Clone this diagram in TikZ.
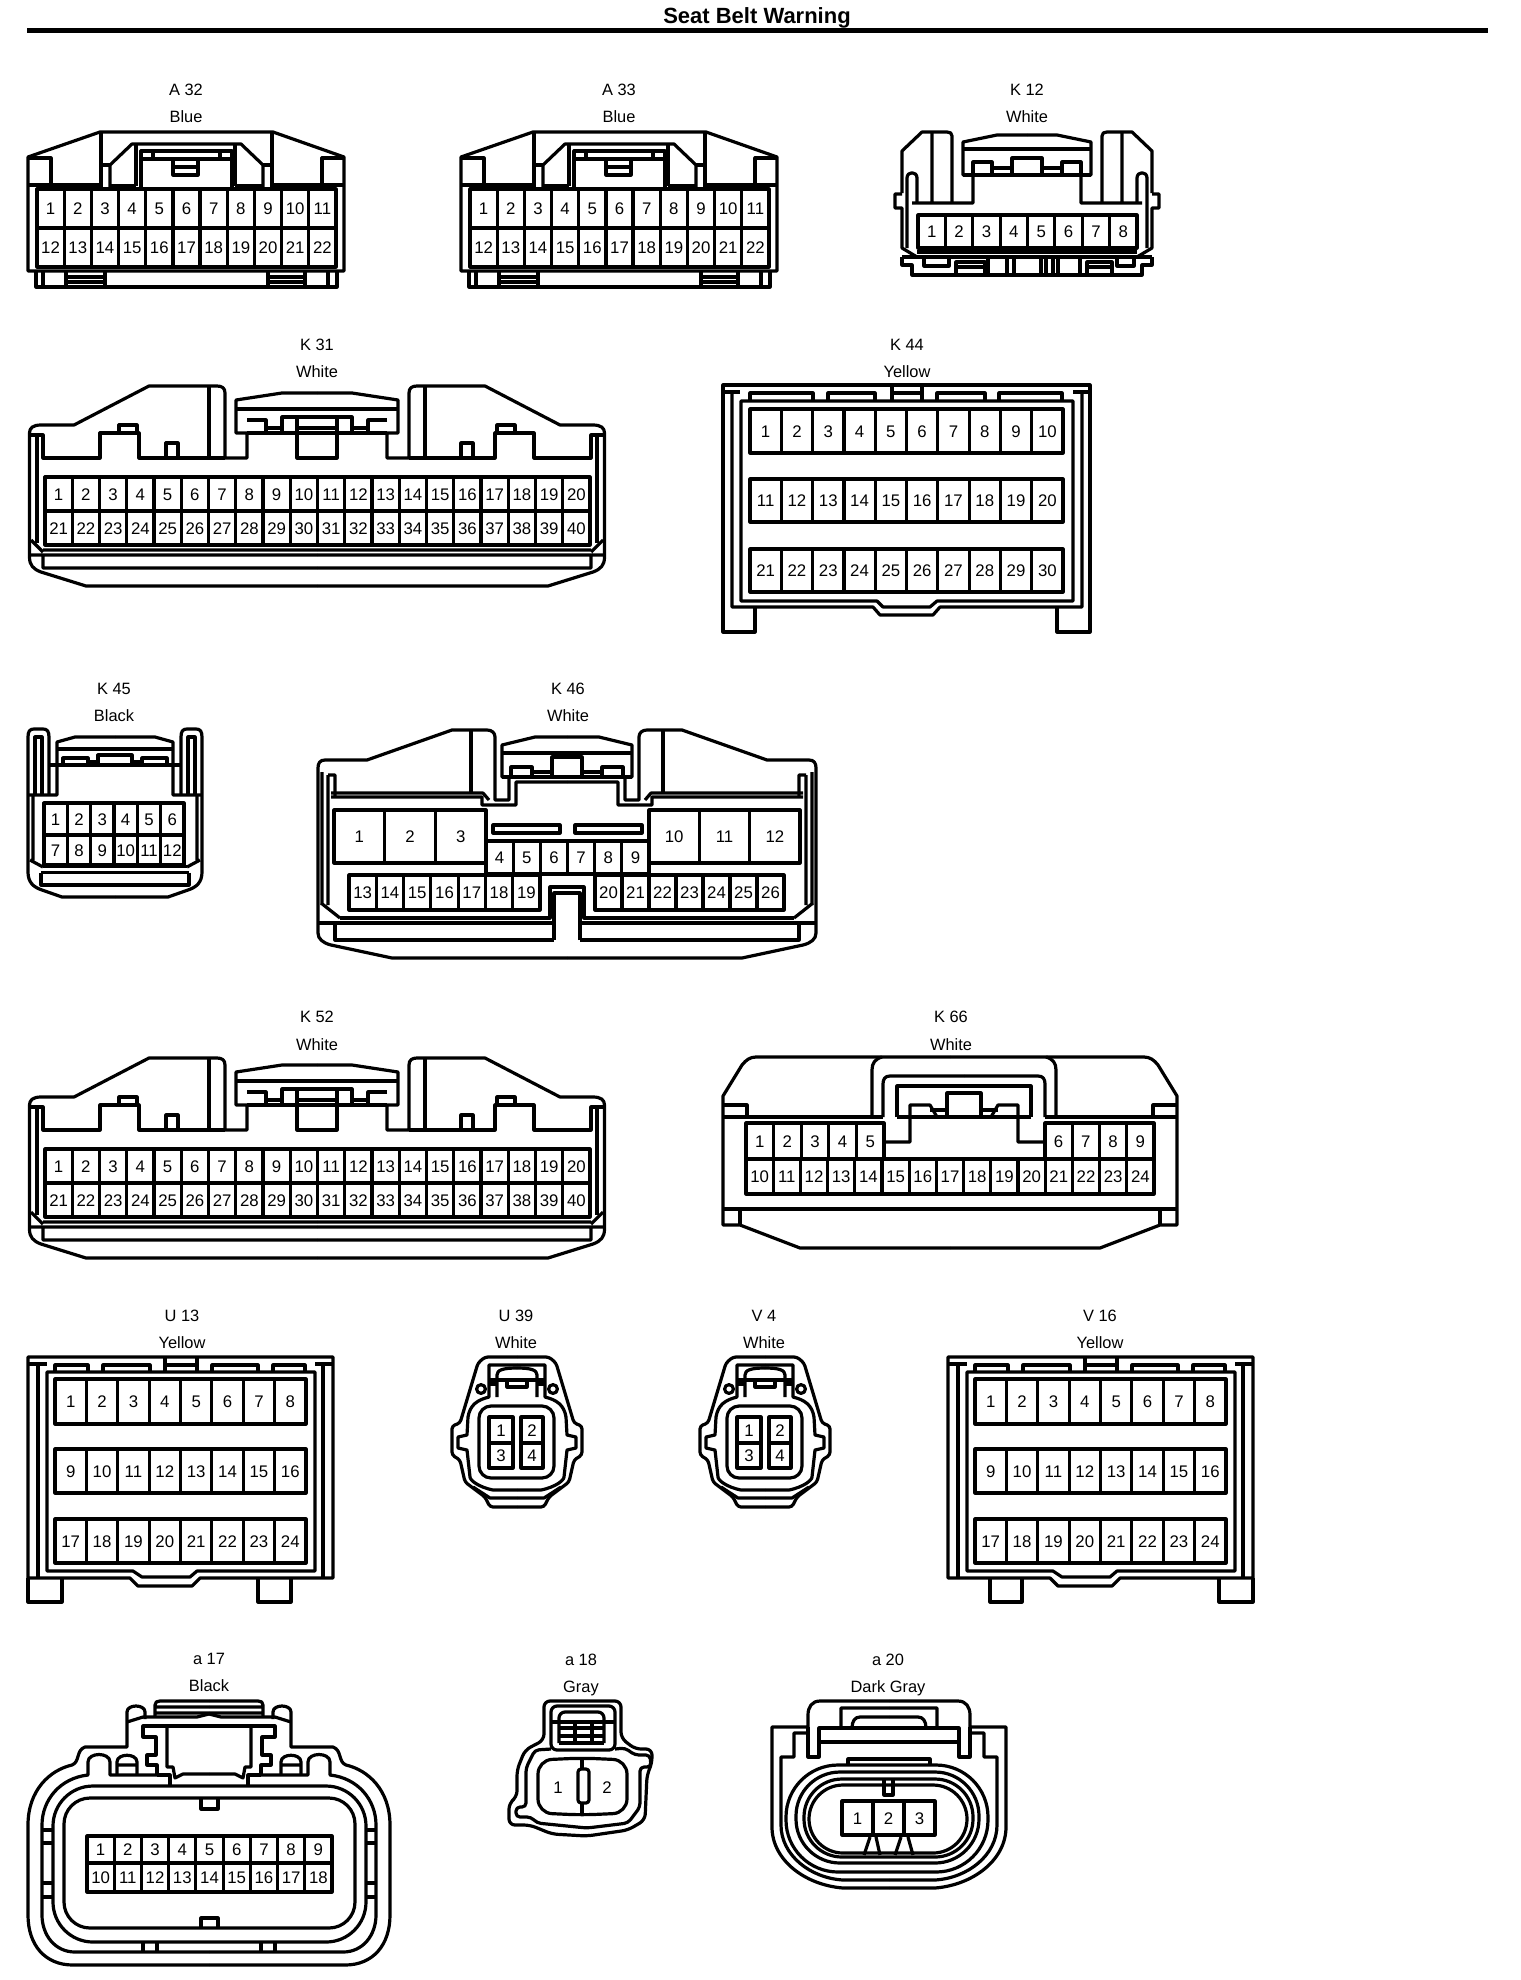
\documentclass[tikz,border=0pt]{standalone}
\usepackage{fontspec}
\setmainfont{Liberation Sans}
\tikzset{
  pin/.style={anchor=base,inner sep=0pt,font=\fontsize{8.4}{10}\selectfont},
  caption/.style={anchor=base,inner sep=0pt,font=\fontsize{8.2}{10}\selectfont}
}
\newcommand\mirrored[2]{#2\begin{scope}[shift={({2*#1},0)},xscale=-1]#2\end{scope}}
% name, x0, x1, y0, y1, n, first number
\newcommand\pins[7]{%
  \draw (#2,#4) rectangle (#3,#5);
  \foreach \i [evaluate=\i as \cx using {#2+(\i-0.5)*(#3-#2)/#6},
               evaluate=\i as \lx using {#2+\i*(#3-#2)/#6},
               evaluate=\i as \num using {int(#7+\i-1)}] in {1,...,#6}{
    \ifnum\i<#6\relax \draw (\lx,#4)--(\lx,#5);\fi
    \node[pin] (#1-\num) at (\cx,{(#4+#5)/2+6}) {\num};
  }%
}
\newcommand\capt[6]{\node[caption] (#1-id) at (#2,#3+6) {#4}; \node[caption] (#1-col) at (#2,#5+6) {#6};}
\newcommand\connA[1]{%
  \draw (28,271)--(28,157)--(100,132)--(273,132)--(344,157)--(344,271)--cycle;
  \draw (36,272)--(36,287)--(337,287)--(337,272);
  \draw (43,272)--(43,287) (328,272)--(328,287);
  \draw (66,272)--(66,287) (105,272)--(105,287) (66,277)--(105,277) (66,282)--(105,282);
  \draw (268,272)--(268,287) (305,272)--(305,287) (268,277)--(305,277) (268,282)--(305,282);
  \draw (28,158)--(51,158)--(51,185) (344,158)--(322,158)--(322,185);
  \draw (28,185)--(101,185) (344,185)--(272,185);
  \draw (101,132)--(101,189) (272,132)--(272,189);
  \draw (110,189)--(110,165)--(132,144)--(241,144)--(263,165)--(263,189);
  \draw (101,165)--(110,165) (263,165)--(272,165);
  \draw (136,144)--(136,186) (235,144)--(235,186) (110,186)--(136,186) (235,186)--(263,186);
  \draw (141,189)--(141,151)--(232,151)--(232,189) (141,159)--(232,159) (153,151)--(153,159) (220,151)--(220,159);
  \draw (173,160)--(173,175)--(198,175)--(198,160) (173,167)--(198,167);
  \pins{#1}{37}{336}{189}{228}{11}{1}
  \pins{#1}{37}{336}{228}{267}{11}{12}
}
\newcommand\connK[1]{%
  \mirrored{317}{%
    \draw (317,586)--(86,586)--(41,572) .. controls (33,569) and (29.5,565) .. (29.5,557)--(29.5,433)
      .. controls (29.5,428) and (33,425) .. (41,425)--(74,425)--(149,386)--(217,386)
      .. controls (222,386) and (225,388) .. (225,393)--(225,458)--(247,458)--(247,433)--(236,433)--(236,400)--(282,393)--(317,393);
    \draw (37,435)--(37,543) (30,435)--(43,435)--(43,458)--(100,458)--(100,433)--(139,433)--(139,458)--(225,458);
    \draw (119,433)--(119,425)--(137,425)--(137,433);
    \draw (209,386)--(209,458);
    \draw (31,540)--(43,552) (43,550)--(317,550) (30,555)--(317,555) (43,555)--(43,568)--(317,568);
    \draw (247,433)--(317,433) (236,409)--(317,409);
    \draw (247,420)--(266,420)--(266,433) (282,433)--(282,417)--(317,417) (266,428)--(282,428);
    \draw (297,417)--(297,458)--(317,458) (297,428)--(317,428);
  }
  \draw (166,458)--(166,443)--(178,443)--(178,458) (461,458)--(461,443)--(473,443)--(473,458);
  \pins{#1}{45}{590}{477}{511}{20}{1}
  \pins{#1}{45}{590}{511}{545}{20}{21}
}
\newcommand\connU[1]{%
  \draw (28,1578)--(28,1357)--(333,1357)--(333,1578)--(200,1578)--(192,1586)--(138,1586)--(130,1578)--cycle;
  \draw (38,1364)--(38,1578) (323,1364)--(323,1578) (28,1364)--(47,1364) (315,1364)--(333,1364);
  \draw (47,1372)--(315,1372)--(315,1571)--(197,1571)--(190,1577)--(142,1577)--(133,1571)--(47,1571)--cycle;
  \draw (55,1372)--(55,1365)--(88,1365)--(88,1372) (103,1372)--(103,1365)--(150,1365)--(150,1372);
  \draw (165,1357)--(165,1372) (197,1357)--(197,1372) (165,1365)--(197,1365);
  \draw (212,1372)--(212,1365)--(258,1365)--(258,1372) (273,1372)--(273,1365)--(305,1365)--(305,1372);
  \pins{#1}{55}{306}{1379}{1424}{8}{1}
  \pins{#1}{55}{306}{1449}{1493}{8}{9}
  \pins{#1}{55}{306}{1519}{1563}{8}{17}
}
\newcommand\connS[1]{%
  \mirrored{517}{%
    \draw[rounded corners=1.5pt] (517,1507)--(490,1507)--(485,1497)--(465,1482)--(460,1460)--(452,1455)--(452,1426)--(460,1423)--(478,1363)--(485,1357)--(517,1357);
    \draw (517,1490)--(493,1490) .. controls (478,1487) and (470,1480) .. (470,1477)--(467,1450)--(458,1448)--(458,1437)--(467,1435)--(468,1417)
      .. controls (470,1405) and (477,1400) .. (489,1397)--(489,1365)--(517,1365);
    \draw (473,1487)--(490,1498)--(517,1498);
    \draw (489,1380)--(517,1380) (489,1384)--(497,1384);
    \draw (497,1397)--(497,1375) .. controls (497,1370) and (503,1368) .. (517,1368);
    \draw (507,1380)--(507,1387)--(517,1387);
    \draw (481,1389) circle [radius=2.2pt];
  }
  \draw[rounded corners=6pt] (479,1406) rectangle (554,1478);
  \pins{#1}{489}{513}{1417}{1443}{1}{1}
  \pins{#1}{521}{543}{1417}{1443}{1}{2}
  \pins{#1}{489}{513}{1443}{1468}{1}{3}
  \pins{#1}{521}{543}{1443}{1468}{1}{4}
}
\begin{document}
\begin{tikzpicture}[x=0.5pt,y=-0.5pt,line width=1.6pt,line join=round]
\useasboundingbox (0,0) rectangle (1520,1980);
\node[anchor=base,inner sep=0pt,font=\bfseries\fontsize{11}{13}\selectfont] (title) at (757,23.5) {Seat Belt Warning};
\fill (27,28) rectangle (1488,33);

% A32 / A33
\capt{A32}{186}{90}{A 32}{117}{Blue}
\connA{A32}
\capt{A33}{619}{90}{A 33}{117}{Blue}
\begin{scope}[shift={(433,0)}]\connA{A33}\end{scope}

% K12
\begin{scope}[shift={(-3,0)}]
\capt{K12}{1030}{90}{K 12}{117}{White}
\mirrored{1030}{%
  \draw (905,193)--(905,151)--(925,132)--(950,132) .. controls (953,132) and (955,133) .. (955,136)--(955,203);
  \draw (935,132)--(935,203) (915,203)--(976,203)--(976,175)--(966,175)--(966,142)--(1000,135)--(1030,135);
  \draw (905,194)--(898,194)--(898,208)--(905,208)--(905,248)--(920,257);
  \draw (910,248)--(910,178) .. controls (910,171) and (920,171) .. (920,178)--(920,203);
  \draw (966,149)--(1030,149);
  \draw (976,173)--(976,162)--(995,162)--(995,173) (966,175)--(1030,175);
  \draw (1015,173)--(1015,158)--(1030,158) (995,168)--(1015,168);
  \draw (905,257)--(1030,257) (920,252)--(1030,252);
  \draw (905,257)--(905,265)--(915,265)--(915,275)--(1030,275);
}
\draw (927,259)--(927,266)--(952,266)--(952,259);
\draw (959,275)--(959,262)--(988,262)--(988,275) (959,267)--(988,267);
\draw (991,259)--(991,275) (1010,259)--(1010,275) (1017,259)--(1017,275) (1044,259)--(1044,275);
\draw (1049,259)--(1049,275) (1056,259)--(1056,275) (1061,259)--(1061,275) (1083,259)--(1083,275);
\draw (1090,275)--(1090,262)--(1115,262)--(1115,275) (1090,267)--(1115,267);
\draw (1120,259)--(1120,266)--(1137,266)--(1137,259);
\pins{K12}{921}{1140}{215}{248}{8}{1}
\end{scope}

% K31 / K52
\capt{K31}{317}{344}{K 31}{371}{White}
\connK{K31}
\capt{K52}{317}{1016}{K 52}{1044}{White}
\begin{scope}[shift={(0,672)}]\connK{K52}\end{scope}

% K44
\capt{K44}{907}{344}{K 44}{371}{Yellow}
\draw (755,608)--(755,632)--(723,632)--(723,385)--(1090,385)--(1090,632)--(1057,632)--(1057,608);
\draw (732,392)--(732,607)--(873,607)--(880,615)--(933,615)--(940,607)--(1082,607)--(1082,392);
\draw (723,392)--(740,392) (1073,392)--(1090,392);
\draw (741,401)--(1073,401)--(1073,601)--(937,601)--(930,607)--(883,607)--(877,601)--(741,601)--cycle;
\draw (750,401)--(750,393)--(813,393)--(813,401) (828,401)--(828,393)--(875,393)--(875,401);
\draw (892,385)--(892,401) (922,385)--(922,401) (892,393)--(922,393);
\draw (937,401)--(937,393)--(985,393)--(985,401) (999,401)--(999,393)--(1062,393)--(1062,401);
\pins{K44}{750}{1063}{409}{453}{10}{1}
\pins{K44}{750}{1063}{479}{522}{10}{11}
\pins{K44}{750}{1063}{549}{592}{10}{21}

% K45
\capt{K45}{114}{688}{K 45}{715}{Black}
\mirrored{115}{%
  \draw (115,897)--(62,897)--(42,890) .. controls (33,887) and (28,882) .. (28,872)--(28,737) .. controls (28,731) and (30,729) .. (34,729)--(43,729) .. controls (47,729) and (49,731) .. (49,737)--(49,795);
  \draw (35,795)--(35,737)--(42,737)--(42,795);
  \draw (28,795)--(57,795)--(57,742)--(75,737)--(115,737);
  \draw (57,749)--(115,749) (49,765)--(115,765);
  \draw (63,765)--(63,758)--(88,758)--(88,765) (98,765)--(98,755)--(115,755);
  \draw (88,762)--(98,762);
  \draw (33,795)--(33,860) (30,860)--(43,867);
  \draw (43,866.5)--(115,866.5) (41,872.5)--(41,885)--(115,885) (41,872.5)--(115,872.5);
}
\pins{K45}{44}{184}{803}{835}{6}{1}
\pins{K45}{44}{184}{835}{865}{6}{7}

% K46
\capt{K46}{568}{688}{K 46}{715}{White}
\mirrored{567}{%
  \draw (567,958)--(392,958)--(331,945) .. controls (323,943) and (318,939) .. (318,933)--(318,768) .. controls (318,763) and (320,760) .. (325,760)--(367,760)--(452,730)--(487,730)
    .. controls (492,730) and (495,733) .. (495,737)--(495,800)--(509,800)--(509,777)--(502,777)--(502,745)--(535,737)--(567,737);
  \draw (471,730)--(471,792);
  \draw (331,793)--(483,793)--(489,800) (331,797)--(482,797)--(482,805)--(516,805)--(516,782)--(567,782);
  \draw (328,775)--(335,775)--(335,797) (322,772)--(322,905) (328,775)--(328,905) (321,903)--(340,918);
  \draw (502,753)--(567,753);
  \draw (552,777)--(552,757)--(567,757) (511,777)--(511,767)--(532,767)--(532,777) (532,772)--(552,772) (502,777)--(567,777);
  \draw (340,918)--(550,918)--(550,887)--(567,887) (554,940)--(554,893)--(567,893);
  \draw (318,923)--(554,923) (335,923)--(335,940)--(554,940);
}
\pins{K46}{334}{486}{810}{863}{3}{1}
\pins{K46}{649}{800}{810}{863}{3}{10}
\draw (493,825) rectangle (560,833) (575,825) rectangle (642,833);
\pins{K46}{486}{649}{841}{874}{6}{4}
\pins{K46}{349}{540}{875}{910}{7}{13}
\pins{K46}{595}{784}{875}{910}{7}{20}

% K66
\capt{K66}{951}{1016}{K 66}{1044}{White}
\mirrored{950}{%
  \draw (950,1248)--(800,1248)--(740,1225)--(723,1225)--(723,1096)--(742,1065) .. controls (746,1060) and (750,1057) .. (756,1057)--(950,1057);
  \draw (723,1105)--(747,1105)--(747,1117);
  \draw (723,1209)--(950,1209) (740,1209)--(740,1225);
}
\draw (723,1117)--(883,1117) (1045,1117)--(1177,1117);
\mirrored{964}{%
  \draw (872,1117)--(872,1070) .. controls (872,1063) and (875,1059) .. (882,1057);
  \draw (883,1117)--(883,1084) .. controls (883,1079) and (885,1076) .. (890,1076)--(964,1076);
  \draw (897,1117)--(897,1086)--(964,1086) (897,1117)--(964,1117);
  \draw (883,1142)--(910,1142)--(910,1105)--(930,1105)--(937,1117);
  \draw (947,1117)--(947,1093)--(964,1093) (930,1110)--(947,1110);
}
\pins{K66}{746}{884}{1123}{1159}{5}{1}
\pins{K66}{1045}{1154}{1123}{1159}{4}{6}
\pins{K66}{746}{1154}{1159}{1194}{15}{10}

% U13 / V16
\capt{U13}{182}{1315}{U 13}{1342}{Yellow}
\connU{U13}
\draw (28,1578)--(28,1602)--(62,1602)--(62,1578) (258,1578)--(258,1602)--(291,1602)--(291,1578);
\capt{V16}{1100}{1315}{V 16}{1342}{Yellow}
\begin{scope}[shift={(920,0)}]
  \connU{V16}
  \draw (70,1578)--(70,1602)--(102,1602)--(102,1578) (299,1578)--(299,1602)--(333,1602)--(333,1578);
\end{scope}

% U39 / V4
\capt{U39}{516}{1315}{U 39}{1342}{White}
\connS{U39}
\capt{V4}{764}{1315}{V 4}{1342}{White}
\begin{scope}[shift={(248,0)}]\connS{V4}\end{scope}

% a17
\capt{a17}{209}{1658}{a 17}{1685}{Black}
\mirrored{209}{%
  \draw (209,1965)--(73,1965) .. controls (45,1965) and (28,1945) .. (28,1915)--(28,1825) .. controls (28,1790) and (50,1770) .. (72,1765) .. controls (80,1762) and (76,1750) .. (85,1747)--(127,1747)--(127,1712) .. controls (127,1704) and (145,1704) .. (145,1712)--(145,1719);
  \draw (155,1716)--(155,1705) .. controls (155,1702) and (157,1701) .. (160,1701)--(209,1701) (155,1707)--(209,1707) (155,1713)--(209,1713);
  \draw (127,1722)--(143,1717)--(197,1717)--(209,1714);
  \draw (209,1952)--(75,1952) .. controls (55,1952) and (42,1935) .. (42,1915)--(42,1825) .. controls (42,1800) and (60,1778) .. (88,1775)--(88,1762) .. controls (88,1752) and (110,1752) .. (110,1762)--(110,1775)--(157,1775);
  \draw (117,1775)--(117,1762) .. controls (117,1753) and (137,1753) .. (137,1762)--(137,1775) (117,1765)--(137,1765);
  \draw (42,1830)--(53,1830) (42,1843)--(53,1843) (42,1883)--(53,1883) (42,1897)--(53,1897);
  \draw (143,1942)--(143,1952) (157,1942)--(157,1952);
  \draw (209,1726)--(143,1726)--(143,1737)--(156,1737)--(156,1755)--(147,1755)--(147,1765)--(157,1765)--(157,1775);
  \draw (167,1726)--(167,1767)--(173,1767)--(175,1778)--(183,1774)--(209,1774);
  \draw (157,1775)--(170,1775)--(170,1786);
}
\draw[rounded corners=20pt] (53,1786) rectangle (366,1942);
\draw[rounded corners=13pt] (64,1798) rectangle (355,1928);
\draw (201,1798)--(201,1809)--(218,1809)--(218,1798) (201,1928)--(201,1918)--(218,1918)--(218,1928);
\pins{a17}{87}{332}{1836}{1863}{9}{1}
\pins{a17}{87}{332}{1863}{1892}{9}{10}

% a18
\capt{a18}{581}{1659}{a 18}{1686}{Gray}
\draw[rounded corners=3pt] (544,1740)--(544,1701)--(621,1701)--(621,1738)--(635,1749)--(652,1749)--(652,1763)--(647,1775)--(645,1820)--(628,1830)--(587,1836)--(552,1834)--(530,1825)--(509,1825)--(509,1803)--(517,1797)--(517,1770)--(525,1750)--cycle;
\draw[rounded corners=2pt] (551,1749)--(535,1750)--(526,1768)--(526,1807)--(516,1807)--(516,1817)--(531,1817)--(537,1823)--(587,1828)--(628,1823)--(640,1807)--(640,1767)--(651,1767)--(650,1755)--(635,1755)--(625,1748)--(615,1749);
\draw[rounded corners=3pt] (551,1750)--(551,1706)--(615,1706)--(615,1750)--cycle;
\draw[rounded corners=7pt] (538,1760)--(582,1758)--(627,1760)--(627,1813)--(582,1815)--(538,1813)--cycle;
\draw (582,1758)--(582,1769) (582,1803)--(582,1815);
\draw[rounded corners=1.5pt] (578,1769) rectangle (589,1803);
\node[pin] (a18-1) at (558,1793) {1};
\node[pin] (a18-2) at (607,1793) {2};
\draw[rounded corners=3pt] (559,1743)--(559,1712)--(604,1712)--(604,1743);
\draw (575,1720)--(575,1743) (592,1720)--(592,1743) (551,1722)--(615,1722) (559,1728)--(604,1728) (559,1736)--(604,1736) (559,1743)--(604,1743);

% a20
\capt{a20}{888}{1659}{a 20}{1686}{Dark Gray}
\mirrored{889}{%
  \draw (889,1888)--(843,1888) .. controls (805,1885) and (772,1860) .. (772,1827)--(772,1727)--(808,1727)--(808,1715) .. controls (808,1707) and (812,1701) .. (820,1701)--(889,1701);
  \draw (889,1880)--(843,1880) .. controls (810,1878) and (781,1855) .. (781,1825)--(781,1757)--(794,1757)--(794,1733)--(808,1733);
  \draw (808,1727)--(808,1757)--(819,1757)--(819,1728)--(889,1728) (819,1742)--(889,1742);
  \draw (841,1728)--(841,1708)--(889,1708) (852,1728) .. controls (852,1721) and (855,1717) .. (860,1717)--(889,1717);
  \draw (848,1765)--(848,1759)--(889,1759);
}
\draw[rounded corners=26pt] (786,1765) rectangle (988,1872);
\draw[rounded corners=22pt] (796,1772) rectangle (979,1863);
\draw[rounded corners=19pt] (804,1779) rectangle (973,1857);
\draw[rounded corners=17pt] (809,1785) rectangle (967,1853);
\draw (884,1779)--(884,1795)--(893,1795)--(893,1779);
\pins{a20}{842}{935}{1801}{1835}{3}{1}
\draw (870,1837)--(864,1855) (876,1837)--(880,1855) (901,1837)--(895,1855) (908,1837)--(913,1855);
\end{tikzpicture}
\end{document}
